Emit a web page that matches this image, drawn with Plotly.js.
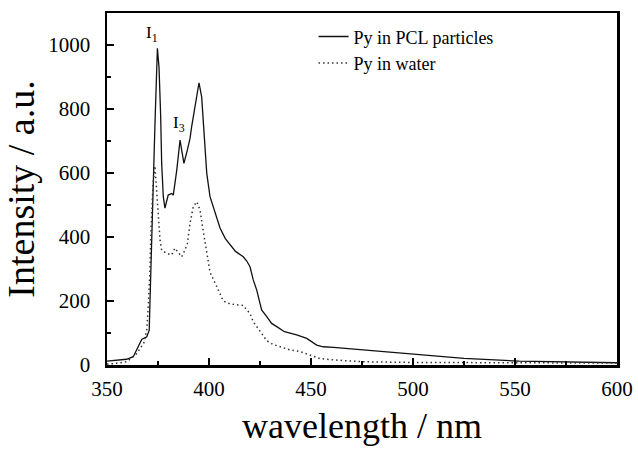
<!DOCTYPE html>
<html>
<head>
<meta charset="utf-8">
<script src="https://cdn.plot.ly/plotly-3.0.1.min.js"></script>
<style>html,body{margin:0;padding:0;background:#fff;}#chart{width:638px;height:452px;}</style>
</head>
<body>
<div id="chart"></div>
<script>
// Py in PCL particles (solid)
const pclWavelength = [350, 355, 359.6, 362.9, 365.3, 367, 369.5, 370.7, 371, 371.4, 371.9, 372.7, 373.5, 374.7, 375.5, 376.3, 376.8, 377.6, 378.4, 380, 381.7, 382.5, 384.2, 385.8, 387.7, 389.4, 390.7, 391.5, 393.1, 395.1, 396.4, 397.5, 398.9, 400.5, 402.9, 405.4, 408, 410.3, 413, 416.8, 418.5, 420.1, 421.7, 423.4, 425.8, 428.3, 430.7, 433.2, 437, 443, 447.9, 452.8, 456, 461, 475, 487, 503, 525, 552, 575, 600];
const pclIntensity  = [12, 15, 18, 26, 57, 80, 88, 109, 182, 287, 390, 599, 750, 990, 930, 780, 630, 526, 490, 531, 536, 531, 609, 703, 630, 672, 708, 745, 807, 882, 838, 734, 599, 526, 474, 428, 395, 375, 355, 338, 325, 307, 266, 234, 172, 151, 130, 120, 104, 94, 83, 62, 57, 55, 48, 42, 34, 21, 12, 9, 7];

// Py in water (dotted)
const waterWavelength = [350, 353, 359.6, 364.6, 368, 369.5, 370.2, 371, 371.4, 372.5, 373.5, 374.3, 375.1, 376, 376.8, 379.2, 381.7, 383.3, 385, 386.6, 388.2, 389.4, 390.7, 392.3, 394, 395.6, 397.2, 398.8, 400.5, 403.8, 407, 410.3, 415, 416.8, 418.5, 420.1, 421.7, 423.4, 425.8, 428.3, 431.5, 434.8, 439.7, 444.6, 451.1, 454.4, 461, 475.6, 500, 520, 552, 600];
const waterIntensity  = [3, 4, 10, 36, 68, 109, 182, 287, 390, 560, 622, 560, 474, 390, 359, 349, 344, 365, 349, 338, 359, 380, 443, 495, 510, 484, 418, 350, 290, 245, 200, 191, 188, 186, 172, 161, 135, 120, 96, 76, 64, 57, 47, 42, 29, 20, 16, 10, 8, 8, 7, 6];

const seriesNames = ["Py in PCL particles", "Py in water"];
const xTickVals = [350, 400, 450, 500, 550, 600];
const yTickVals = [0, 200, 400, 600, 800, 1000];
const peakLabels = ["I<sub>1</sub>", "I<sub>3</sub>"];
const peakLabelX = [372.3, 385.3];
const peakLabelY = [1034, 753];

const FONT = "'Liberation Serif', 'Times New Roman', serif";

const traces = [
  {x: pclWavelength, y: pclIntensity, type: "scatter", mode: "lines", name: seriesNames[0],
   line: {color: "#111", width: 1.3}},
  {x: waterWavelength, y: waterIntensity, type: "scatter", mode: "lines", name: seriesNames[1],
   line: {color: "#333", width: 1.5, dash: "1.5px,3px"}}
];

const axisCommon = {
  showgrid: false, zeroline: false, showline: true, linecolor: "#000", linewidth: 2.5,
  mirror: true, ticks: "inside", ticklen: 7, tickwidth: 2, tickcolor: "#000",
  tickfont: {family: FONT, size: 21, color: "#000"}
};

const layout = {
  width: 638, height: 452,
  font: {family: FONT, color: "#000"},
  margin: {l: 107, r: 21, t: 13, b: 87},
  paper_bgcolor: "#fff", plot_bgcolor: "#fff",
  showlegend: true,
  legend: {x: 0.405, y: 0.985, xanchor: "left", yanchor: "top", bgcolor: "rgba(0,0,0,0)",
           font: {family: FONT, size: 18, color: "#000"}, tracegroupgap: 0},
  xaxis: Object.assign({}, axisCommon, {
    range: [350, 600], tickvals: xTickVals, ticklabelstandoff: 3,
    minor: {dtick: 25, ticks: "inside", ticklen: 4, tickwidth: 2, tickcolor: "#000"},
    title: {text: "wavelength / nm", font: {family: FONT, size: 36, color: "#000"}, standoff: 13}
  }),
  yaxis: Object.assign({}, axisCommon, {
    range: [0, 1100], tickvals: yTickVals, ticklabelstandoff: 10,
    minor: {dtick: 100, ticks: "inside", ticklen: 4, tickwidth: 2, tickcolor: "#000"},
    title: {text: "Intensity / a.u.\u00A0\u00A0\u00A0\u00A0\u00A0", font: {family: FONT, size: 38, color: "#000"}, standoff: 8}
  }),
  annotations: peakLabels.map((t, i) => ({
    x: peakLabelX[i], y: peakLabelY[i], xref: "x", yref: "y", text: t, showarrow: false,
    font: {family: FONT, size: 17, color: "#000"}
  }))
};

Plotly.newPlot("chart", traces, layout, {displayModeBar: false, staticPlot: true});
</script>
</body>
</html>
